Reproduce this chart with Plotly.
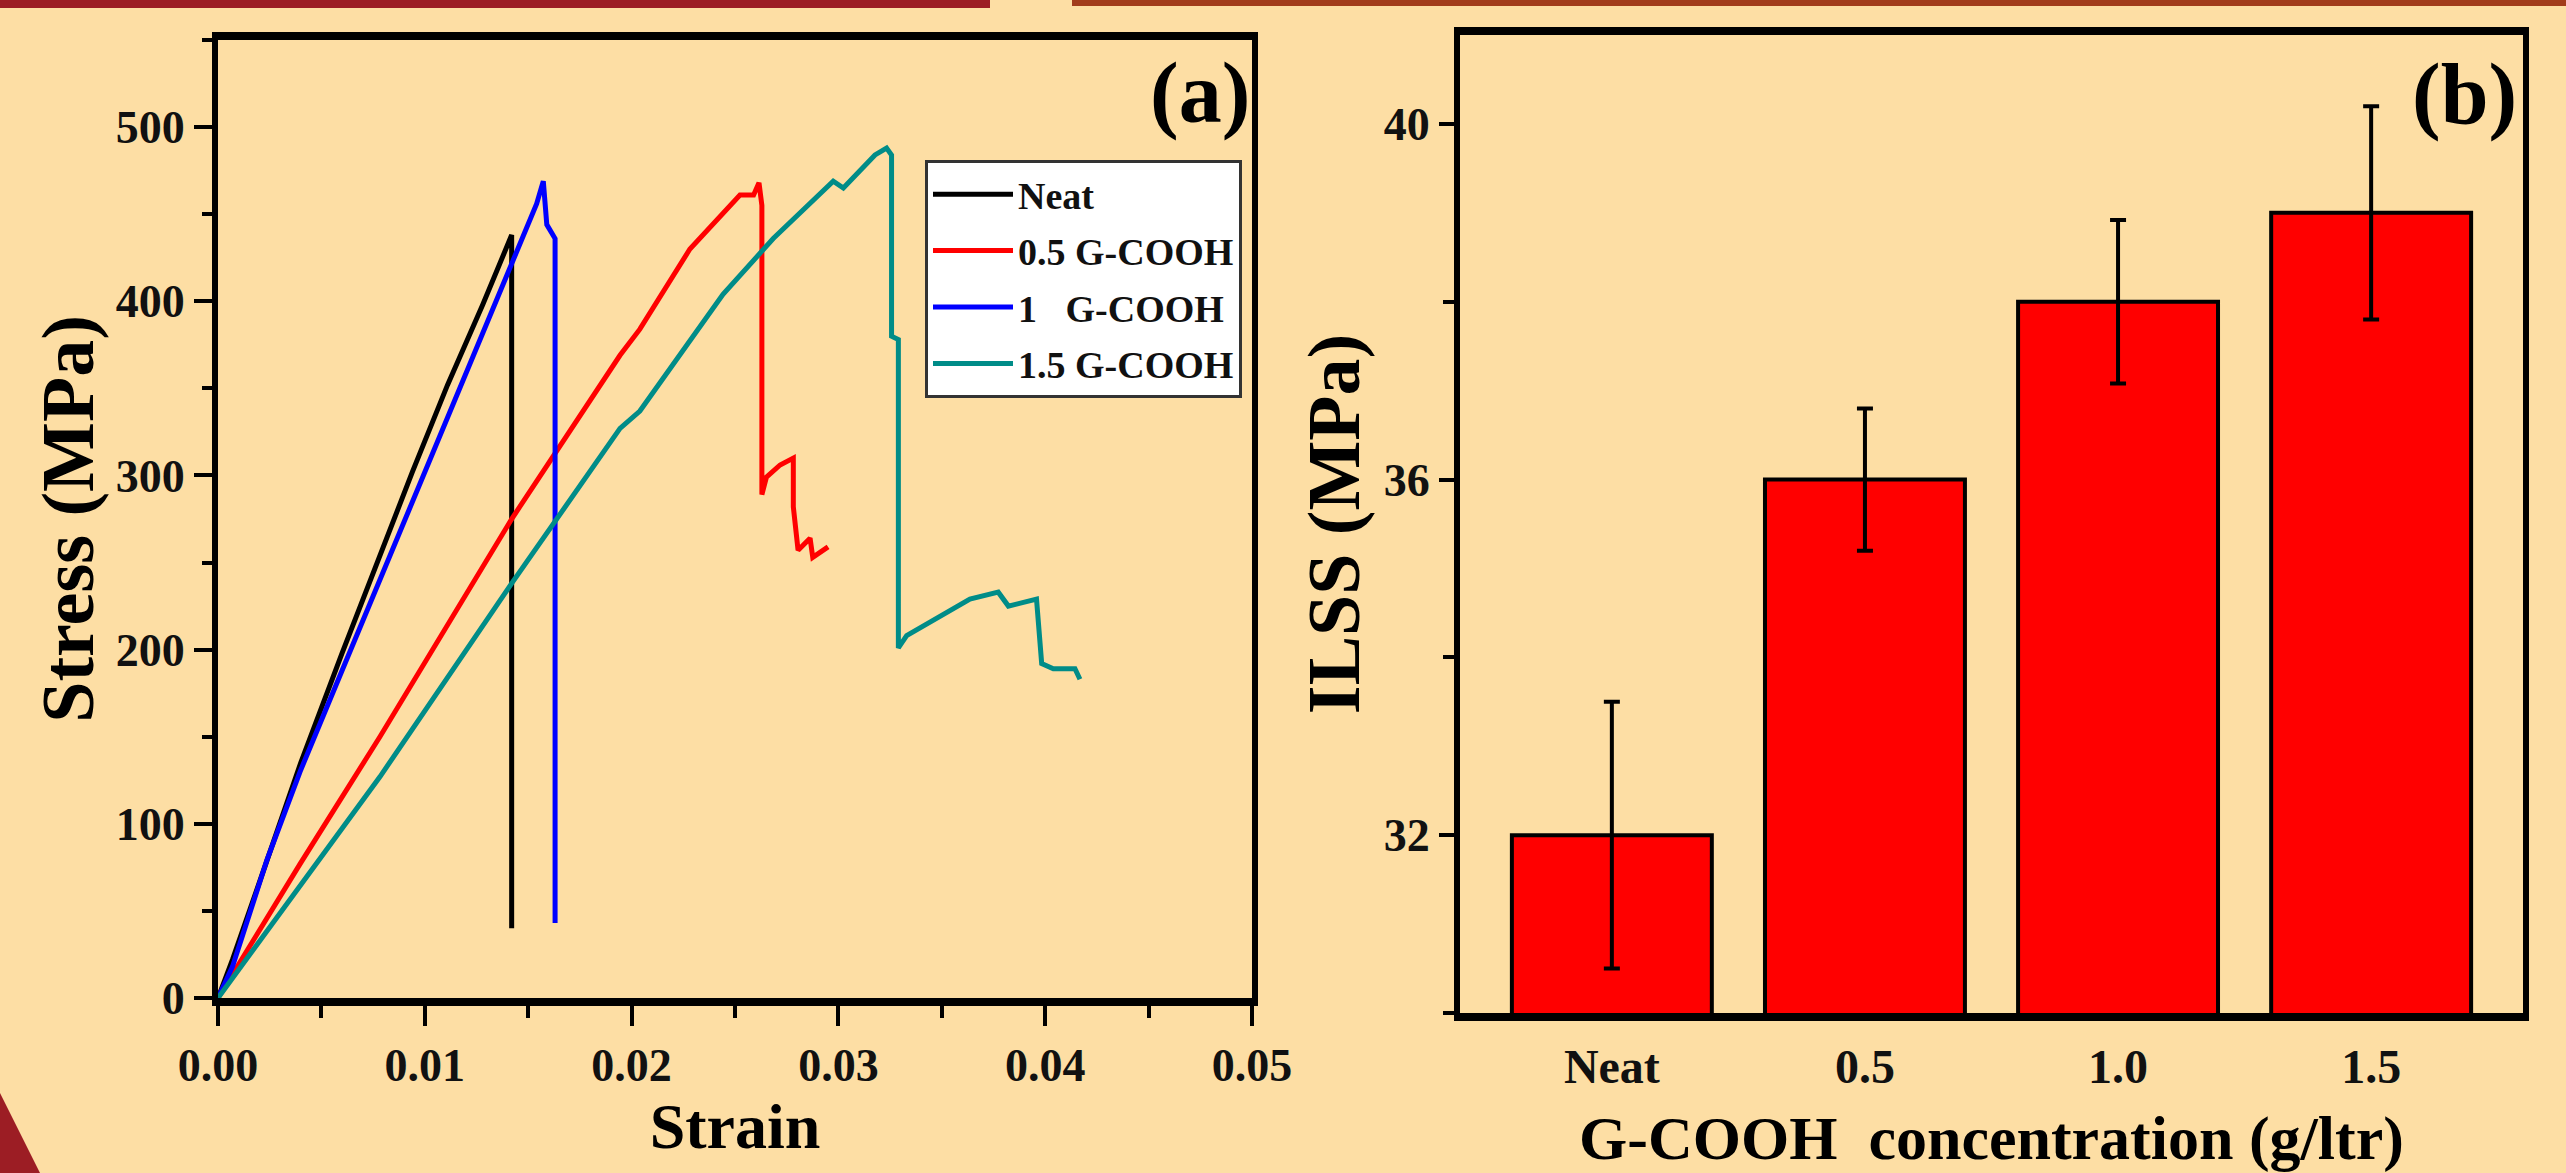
import plotly.graph_objects as go

# ---------------- data ----------------
neat_strain = [0, 0.0007, 0.0024, 0.0040, 0.0060, 0.0078, 0.0094, 0.0111, 0.0128, 0.0142, 0.0142]
neat_stress = [0, 22, 80, 135, 198, 254, 302, 352, 398, 438, 40]

g05_strain = [0, 0.00397, 0.00783, 0.0142, 0.01944, 0.0204, 0.02282, 0.02524, 0.0259, 0.02616,
              0.0263, 0.0263, 0.02652, 0.02718, 0.02782, 0.02782, 0.02805, 0.02863, 0.02876, 0.0295]
g05_stress = [0, 77, 150, 275, 369, 384, 430, 461, 461, 468,
              455, 289, 299, 306, 310, 282, 257, 264, 253, 259]

g1_strain = [0, 0.0007, 0.00236, 0.00397, 0.0060, 0.00783, 0.00944, 0.01106, 0.0130, 0.0146,
             0.01541, 0.01573, 0.0159, 0.0163, 0.0163]
g1_stress = [0, 18, 79, 130, 188, 240, 286, 332, 387, 433,
             456, 469, 444, 436, 43]

g15_strain = [0, 0.00397, 0.00783, 0.0142, 0.01944, 0.0204, 0.02442, 0.02685, 0.02911, 0.02975,
              0.03024, 0.03177, 0.03233, 0.03257, 0.03257, 0.0329, 0.0329, 0.0333, 0.03636, 0.03773,
              0.03822, 0.03958, 0.03983, 0.04039, 0.04144, 0.04168]
g15_stress = [0, 64, 127, 238, 327, 337, 404, 436, 462, 469,
              465, 484, 488, 484, 380, 378, 201, 208, 229, 233,
              225, 229, 192, 189, 189, 183]

series_names = ["Neat", "0.5 G-COOH", "1\u00a0\u00a0\u00a0G-COOH", "1.5 G-COOH"]
series_colors = ["#000000", "#FF0000", "#0000FF", "#008C88"]

conc_labels = ["Neat", "0.5", "1.0", "1.5"]
ilss_values = [32.0, 36.0, 38.0, 39.0]
ilss_errors = [1.5, 0.8, 0.92, 1.2]

# ---------------- figure ----------------
W, H = 2566, 1173
BG = "#FDDEA4"
FONT = "Liberation Serif"

def px_x(p):
    return p / W

def px_y(p):
    return 1 - p / H

fig = go.Figure()

curves = [(neat_strain, neat_stress), (g05_strain, g05_stress),
          (g1_strain, g1_stress), (g15_strain, g15_stress)]
for i, ((xs, ys), name, col) in enumerate(zip(curves, series_names, series_colors)):
    fig.add_trace(go.Scatter(x=xs, y=ys, mode="lines", name=name,
                             line=dict(color=col, width=5),
                             legendgroup=f"g{i}",
                             xaxis="x", yaxis="y"))

fig.add_trace(go.Bar(x=conc_labels, y=ilss_values, width=0.79,
                     marker=dict(color="#FF0000", line=dict(color="#000000", width=4)),
                     error_y=dict(type="data", array=ilss_errors, visible=True,
                                  color="#000000", thickness=4, width=8),
                     showlegend=False, xaxis="x2", yaxis="y2"))

fig.update_layout(
    template="none",
    width=W, height=H,
    margin=dict(l=0, r=0, t=0, b=0, pad=0),
    paper_bgcolor=BG, plot_bgcolor=BG,
    font=dict(family=FONT, color="#000000"),
    showlegend=True,
    legend=dict(x=px_x(925), y=px_y(160), xanchor="left", yanchor="top",
                bgcolor="#FFFFFF", bordercolor="#333333", borderwidth=3,
                font=dict(family=FONT, size=38, color="#111111", weight="bold"),
                traceorder="grouped", tracegroupgap=4, itemwidth=80),
    xaxis=dict(domain=[px_x(218), px_x(1252)], range=[0, 0.05], anchor="y",
               automargin=False,
               tickvals=[0, 0.01, 0.02, 0.03, 0.04, 0.05],
               ticktext=["0.00", "0.01", "0.02", "0.03", "0.04", "0.05"],
               ticks="outside", ticklen=20, tickwidth=4, tickcolor="#000000",
               minor=dict(dtick=0.005, tick0=0, ticks="outside", ticklen=12,
                          tickwidth=4, tickcolor="#000000"),
               showline=True, linewidth=8, linecolor="#000000", mirror=True,
               showgrid=False, zeroline=False,
               tickfont=dict(family=FONT, size=46, color="#111111", weight="bold"),
               title=dict(text="Strain", standoff=2,
                          font=dict(family=FONT, size=64, color="#000000", weight="bold"))),
    yaxis=dict(domain=[px_y(998), px_y(40)], range=[0, 550], anchor="x",
               automargin=False,
               tickvals=[0, 100, 200, 300, 400, 500],
               ticks="outside", ticklen=18, tickwidth=4, tickcolor="#000000",
               minor=dict(dtick=50, tick0=0, ticks="outside", ticklen=10,
                          tickwidth=4, tickcolor="#000000"),
               showline=True, linewidth=6, linecolor="#000000", mirror=True,
               showgrid=False, zeroline=False,
               tickfont=dict(family=FONT, size=46, color="#111111", weight="bold"),
               title=dict(text="Stress (MPa)", standoff=0,
                          font=dict(family=FONT, size=74, color="#000000", weight="bold"))),
    xaxis2=dict(domain=[px_x(1460), px_x(2523)], range=[-0.6, 3.6], anchor="y2",
                automargin=False,
                type="category", categoryorder="array", categoryarray=conc_labels,
                ticks="outside", ticklen=4, tickcolor="rgba(0,0,0,0)",
                showline=True, linewidth=8, linecolor="#000000", mirror=True,
                showgrid=False, zeroline=False,
                tickfont=dict(family=FONT, size=48, color="#111111", weight="bold"),
                title=dict(text="G-COOH\u00a0\u00a0concentration (g/ltr)", standoff=28,
                           font=dict(family=FONT, size=62, color="#000000", weight="bold"))),
    yaxis2=dict(domain=[px_y(1013), px_y(35)], range=[30, 41], anchor="x2",
                automargin=False,
                tickvals=[32, 36, 40],
                ticks="outside", ticklen=15, tickwidth=4, tickcolor="#000000",
                minor=dict(dtick=2, tick0=30, ticks="outside", ticklen=11,
                           tickwidth=4, tickcolor="#000000"),
                showline=True, linewidth=6, linecolor="#000000", mirror=True,
                showgrid=False, zeroline=False,
                tickfont=dict(family=FONT, size=46, color="#111111", weight="bold"),
                title=dict(text="ILSS (MPa)", standoff=2,
                           font=dict(family=FONT, size=74, color="#000000", weight="bold"))),
    annotations=[
        dict(text="(a)", xref="x domain", yref="y domain", x=0.95, y=0.945,
             xanchor="center", yanchor="middle", showarrow=False,
             font=dict(family=FONT, size=86, color="#000000", weight="bold")),
        dict(text="(b)", xref="x2 domain", yref="y2 domain", x=0.945, y=0.94,
             xanchor="center", yanchor="middle", showarrow=False,
             font=dict(family=FONT, size=86, color="#000000", weight="bold")),
    ],
    shapes=[
        dict(type="rect", xref="paper", yref="paper", x0=0, x1=px_x(990),
             y0=px_y(8), y1=1, fillcolor="#9C1D24", line=dict(width=0), layer="above"),
        dict(type="rect", xref="paper", yref="paper", x0=px_x(1072), x1=1,
             y0=px_y(6), y1=1, fillcolor="#A23C1B", line=dict(width=0), layer="above"),
        dict(type="path", xref="paper", yref="paper",
             path=f"M 0 {px_y(1093)} L {px_x(40)} 0 L 0 0 Z",
             fillcolor="#9C1D24", line=dict(width=0), layer="above"),
    ],
)

fig.write_html("out.html", config={"displayModeBar": False},
               post_script="document.body.style.margin='0px';document.body.style.overflow='hidden';")
